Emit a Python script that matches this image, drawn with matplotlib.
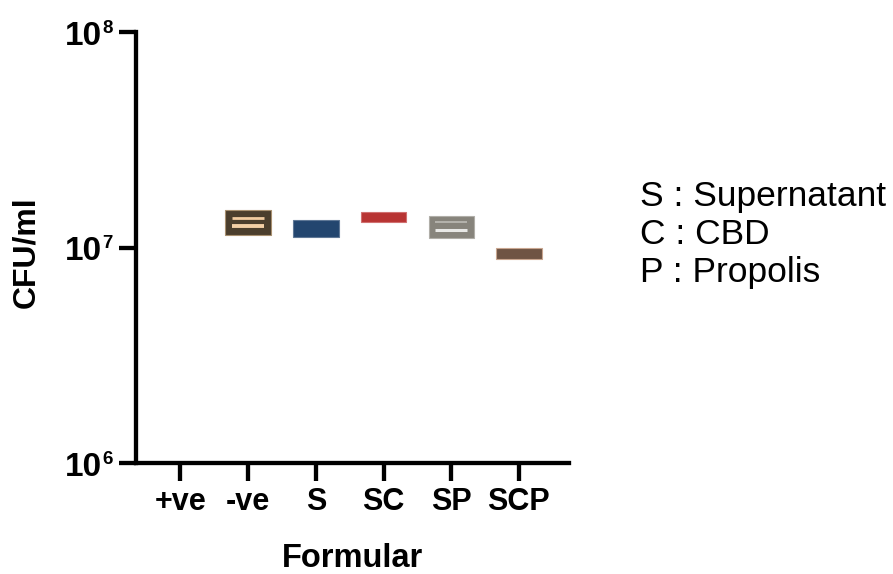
#!/usr/bin/env python
# -*- coding: utf-8 -*-

# ~~~~~~~~~~~~~~~~~~~~~~~~~~~~~~~~~~~~~~~~~~~~~~~~~~~~~~~~~~~~~~~~~~~~~~~~~~~~~~
# CFU/ml per formular: floating bars (min to max) with inner lines
# ~~~~~~~~~~~~~~~~~~~~~~~~~~~~~~~~~~~~~~~~~~~~~~~~~~~~~~~~~~~~~~~~~~~~~~~~~~~~~~

#!------------------------------------------------------------------------------
#!                                   MODULES
#!------------------------------------------------------------------------------
import numpy
from matplotlib import pyplot as plt
from matplotlib import transforms

plt.rcParams['font.family'] = ['Liberation Sans', 'DejaVu Sans']

#!------------------------------------------------------------------------------
#!                                    DATA
#!------------------------------------------------------------------------------
nan = numpy.nan
groups = ['+ve', '-ve', 'S', 'SC', 'SP', 'SCP']
cfu_min = [nan, 1.14e7, 1.12e7, 1.32e7, 1.11e7, 8.9e6]
cfu_max = [nan, 1.50e7, 1.34e7, 1.46e7, 1.40e7, 9.95e6]
cfu_line_hi = [nan, 1.38e7, nan, nan, 1.31e7, nan]
cfu_line_lo = [nan, 1.26e7, nan, nan, 1.205e7, nan]

fill_colors = ['none', '#4b3e2d', '#23466f', '#b83433', '#87847c', '#6f5444']
edge_colors = ['none', '#a89070', '#5f7896', '#d07070', '#b0aea8', '#c9a690']
line_hi_colors = ['none', '#f1cba0', 'none', 'none', '#bdbbb5', 'none']
line_lo_colors = ['none', '#f3cfa6', 'none', 'none', '#e8e8e6', 'none']

legend_lines = ['S : Supernatant', 'C : CBD', 'P : Propolis']
yticks = [1e6, 1e7, 1e8]
yexp = ['6', '7', '8']


#!------------------------------------------------------------------------------
#!                             FUNCTION DEFINITION
#!------------------------------------------------------------------------------
def plot_cfu():
    fig = plt.figure(figsize=(8.93, 5.74), dpi=100)
    W, H = 893., 574.
    ax = fig.add_axes([135.5/W, 1-463/H, (569-135.5)/W, (463-32.3)/H])

    x = numpy.arange(len(groups))
    low = numpy.array(cfu_min)
    high = numpy.array(cfu_max)
    ok = ~numpy.isnan(low)

    ax.set_yscale('log')
    ax.bar(x[ok], (high - low)[ok], bottom=low[ok], width=0.67,
           color=[fill_colors[i] for i in x[ok]],
           edgecolor=[edge_colors[i] for i in x[ok]], linewidth=0.8,
           zorder=2)

    # lines inside the boxes
    for i in x:
        if not numpy.isnan(cfu_line_hi[i]):
            ax.hlines(cfu_line_hi[i], i-0.24, i+0.24, colors=line_hi_colors[i],
                      linewidth=2.0 if i == 1 else 1.2, zorder=3)
        if not numpy.isnan(cfu_line_lo[i]):
            ax.hlines(cfu_line_lo[i], i-0.24, i+0.24, colors=line_lo_colors[i],
                      linewidth=2.8 if i == 1 else 2.2, zorder=3)

    ax.set_xlim(-0.664, 5.74)
    ax.set_ylim(1e6, 1e8)

    for side in ('top', 'right'):
        ax.spines[side].set_visible(False)
    for side in ('left', 'bottom'):
        ax.spines[side].set_linewidth(3.1)
        ax.spines[side].set_capstyle('projecting')

    ax.set_xticks(x)
    ax.set_xticklabels(groups, fontsize=22, fontweight='bold')
    ax.tick_params(axis='x', length=13, width=3.1, pad=4)

    ax.set_yticks(yticks)
    ax.yaxis.set_minor_locator(plt.NullLocator())
    ax.set_yticklabels(['']*len(yticks))
    ax.tick_params(axis='y', length=12.6, width=3.1)

    # 10^n labels drawn by hand
    trans = transforms.blended_transform_factory(ax.transAxes, ax.transData)
    for v, e in zip(yticks, yexp):
        ax.annotate('10', xy=(0, v), xycoords=trans, xytext=(-24.3, -9),
                    textcoords='offset points', ha='right', va='baseline',
                    fontsize=24, fontweight='bold', annotation_clip=False)
        ax.annotate(e, xy=(0, v), xycoords=trans, xytext=(-16.2, -0.5),
                    textcoords='offset points', ha='right', va='baseline',
                    fontsize=13.5, fontweight='bold', annotation_clip=False)

    fig.text(26/W, 1-252/H, 'CFU/ml', rotation=90, ha='center', va='center',
             fontsize=23, fontweight='bold')
    fig.text(352/W, 1-567/H, 'Formular', ha='center', va='baseline',
             fontsize=23.5, fontweight='bold')

    for txt, yb in zip(legend_lines, [205.7, 243.5, 281.7]):
        fig.text(640/W, 1-yb/H, txt, ha='left', va='baseline', fontsize=25.5)

    fig.savefig('out.png', dpi=100)


#!------------------------------------------------------------------------------
#!                                MAIN FUNCTION
#!------------------------------------------------------------------------------
def main():
    plot_cfu()


if __name__ == '__main__':
    main()
